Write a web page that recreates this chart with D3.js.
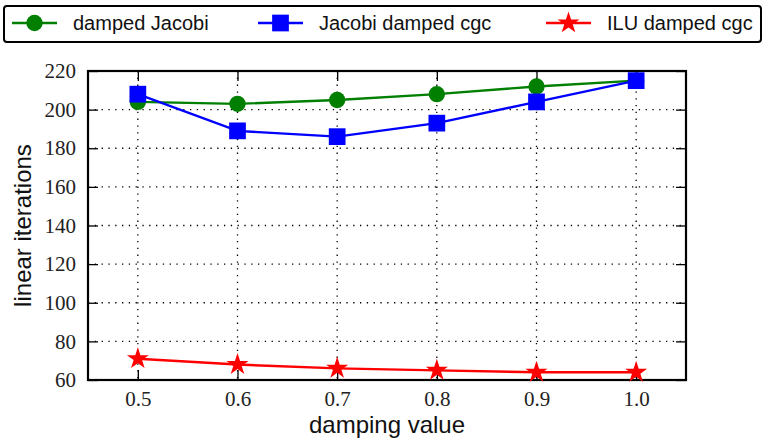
<!DOCTYPE html>
<html>
<head>
<meta charset="utf-8">
<script src="https://cdn.jsdelivr.net/npm/d3@7"></script>
</head>
<body style="margin:0;background:#fff">
<div id="chart"></div>
<script>
const damping = [0.5, 0.6, 0.7, 0.8, 0.9, 1.0];
const dampedJacobi = [204, 203, 205, 208, 212, 215];
const jacobiCgc = [208, 189, 186, 193, 204, 215];
const iluCgc = [71, 68, 66, 65, 64, 64];
const yTicks = [60, 80, 100, 120, 140, 160, 180, 200, 220];

const series = [
    { name: 'damped Jacobi', values: dampedJacobi, color: '#007f00', marker: 'circle' },
    { name: 'Jacobi damped cgc', values: jacobiCgc, color: '#0000ff', marker: 'square' },
    { name: 'ILU damped cgc', values: iluCgc, color: '#ff0000', marker: 'star' }
];

const sansFont = 'Liberation Sans, Arial, sans-serif';
const serifFont = 'Liberation Serif, serif';

const width = 764, height = 438;
const margin = {top: 71, right: 78, bottom: 58, left: 88};
const w = width - margin.left - margin.right;
const h = height - margin.top - margin.bottom;

const svg = d3.select('#chart').append('svg')
    .attr('width', width)
    .attr('height', height)
    .style('display', 'block');

const g = svg.append('g')
    .attr('transform', 'translate(' + margin.left + ',' + margin.top + ')');

const x = d3.scaleLinear().domain([0.45, 1.05]).range([0, w]);
const y = d3.scaleLinear().domain([60, 220]).range([h, 0]);

// grid
g.append('g').selectAll('line').data(damping).join('line')
    .attr('x1', d => x(d)).attr('x2', d => x(d))
    .attr('y1', 0).attr('y2', h)
    .attr('stroke', '#000').attr('stroke-width', 1.3)
    .attr('stroke-dasharray', '1.3,5.5');
g.append('g').selectAll('line').data(yTicks.slice(1, -1)).join('line')
    .attr('x1', 0).attr('x2', w)
    .attr('y1', d => y(d)).attr('y2', d => y(d))
    .attr('stroke', '#000').attr('stroke-width', 1.3)
    .attr('stroke-dasharray', '1.3,5.5');

// axes: ticks point inward, on all four sides
const tickFmt = d3.format('.1f');
g.append('g').attr('transform', 'translate(0,' + h + ')')
    .call(d3.axisBottom(x).tickValues(damping).tickFormat(tickFmt).tickSizeInner(-10).tickSizeOuter(0).tickPadding(11));
g.append('g')
    .call(d3.axisLeft(y).tickValues(yTicks).tickSizeInner(-10).tickSizeOuter(0).tickPadding(12));
g.append('g').call(d3.axisTop(x).tickValues(damping).tickFormat('').tickSizeInner(-10).tickSizeOuter(0));
g.append('g').attr('transform', 'translate(' + w + ',0)')
    .call(d3.axisRight(y).tickValues(yTicks).tickFormat('').tickSizeInner(-10).tickSizeOuter(0));
g.selectAll('.domain').remove();
g.selectAll('.tick line').attr('stroke', '#000').attr('stroke-width', 1.3);
g.selectAll('.tick text')
    .style('font-family', serifFont).style('font-size', '21px').attr('fill', '#222');

g.append('rect')
    .attr('width', w).attr('height', h)
    .attr('fill', 'none').attr('stroke', '#000').attr('stroke-width', 2.2);

// markers
const symbolFor = {
    circle: d3.symbol().type(d3.symbolCircle).size(210),
    square: d3.symbol().type(d3.symbolSquare).size(280),
    star: d3.symbol().type(d3.symbolStar).size(150)
};

const line = d3.line().x(d => x(d[0])).y(d => y(d[1]));
series.forEach(s => {
    const pts = damping.map((d, i) => [d, s.values[i]]);
    const sg = g.append('g');
    sg.append('path').attr('d', line(pts))
        .attr('fill', 'none').attr('stroke', s.color).attr('stroke-width', 2.4);
    sg.selectAll('path.m').data(pts).join('path')
        .attr('class', 'm')
        .attr('d', symbolFor[s.marker])
        .attr('transform', d => 'translate(' + x(d[0]) + ',' + y(d[1]) + ')')
        .attr('fill', s.color);
});

// axis labels
svg.append('text')
    .attr('x', margin.left + w / 2).attr('y', 433)
    .attr('text-anchor', 'middle')
    .style('font-family', sansFont).style('font-size', '24px').attr('fill', '#111')
    .text('damping value');
svg.append('text')
    .attr('transform', 'translate(31,' + (margin.top + h / 2) + ') rotate(-90)')
    .attr('text-anchor', 'middle')
    .style('font-family', sansFont).style('font-size', '24px').attr('fill', '#111')
    .text('linear iterations');

// legend
const leg = svg.append('g');
leg.append('rect')
    .attr('x', 4).attr('y', 6).attr('width', 757).attr('height', 36).attr('rx', 3)
    .attr('fill', '#fff').attr('stroke', '#000').attr('stroke-width', 2);
const legX = [12, 258, 546];
series.forEach((s, i) => {
    const item = leg.append('g').attr('transform', 'translate(' + legX[i] + ',23)');
    item.append('line').attr('x1', 0).attr('x2', 45)
        .attr('stroke', s.color).attr('stroke-width', 2.4);
    item.append('path').attr('d', symbolFor[s.marker])
        .attr('transform', 'translate(22.5,0)').attr('fill', s.color);
    item.append('text')
        .attr('x', 61).attr('y', 7)
        .style('font-family', sansFont).style('font-size', '20px').attr('fill', '#111')
        .text(s.name);
});
</script>
</body>
</html>
